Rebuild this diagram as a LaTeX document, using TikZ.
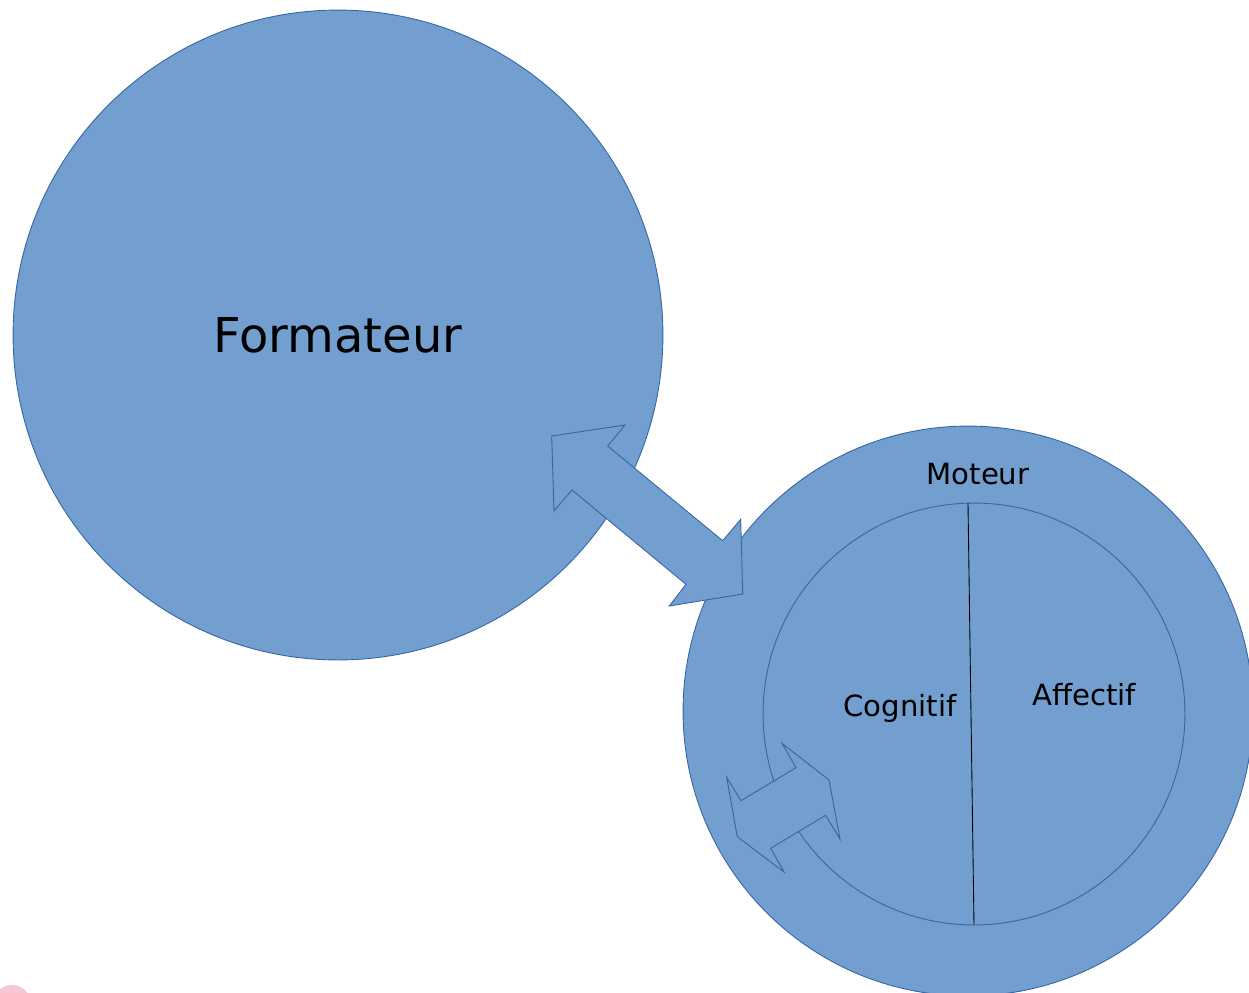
\documentclass[tikz,border=0pt]{standalone}
\usepackage{fontspec}
\setmainfont{DejaVu Sans}
\definecolor{blobfill}{HTML}{729FCF}
\definecolor{blobline}{HTML}{3465A4}
\definecolor{pinkish}{RGB}{244,200,210}
\begin{document}
\begin{tikzpicture}[x=0.02cm,y=-0.02cm,
  blob/.style={circle,fill=blobfill,draw=blobline,line width=0.5pt,inner sep=0pt},
  arrowshape/.style={fill=blobfill,draw=blobline,line width=0.5pt,line join=miter},
  lbl/.style={font=\fontsize{16.6}{20}\selectfont,text=black,inner sep=0pt}]
\useasboundingbox (0,0) rectangle (1249,992);
\fill[pinkish] (12,1004) circle[radius=0.38cm];
% big circle
\node[blob,minimum size=13cm] (form) at (338,335) {};
\node[font=\fontsize{27.3}{32}\selectfont,inner sep=0pt] (formtxt) at (form.center) {Formateur};
% right outer circle
\node[blob,minimum size=11.4cm] (outer) at (968,711) {};
% inner circle
\node[blob,minimum size=8.44cm] (inner) at (974,714) {};
\coordinate (divtop) at (968,503);
\coordinate (divbot) at (974,925);
\draw[black,line width=0.5pt] (divtop) -- (divbot);
\node[lbl] (moteur) at (978,474) {Moteur};
\node[lbl] (cognitif) at (900,708) {Cognitif};
\node[lbl] (affectif) at (1084,695) {Affectif};
% big double arrow
\draw[arrowshape] (551.7,436) -- (625,425) -- (607.7,446) -- (722.7,540.7) -- (740.7,519.3)
  -- (742.7,594) -- (669.3,606) -- (686,584.3) -- (572,490) -- (554,511) -- cycle;
% small double arrow
\draw[arrowshape] (726.7,777.3) -- (741,800.7) -- (796,767.7) -- (782,743.3) -- (829,780)
  -- (840,839) -- (825.7,815.3) -- (770.7,848.3) -- (784.3,872.3) -- (737.3,836.7) -- cycle;
\end{tikzpicture}
\end{document}
